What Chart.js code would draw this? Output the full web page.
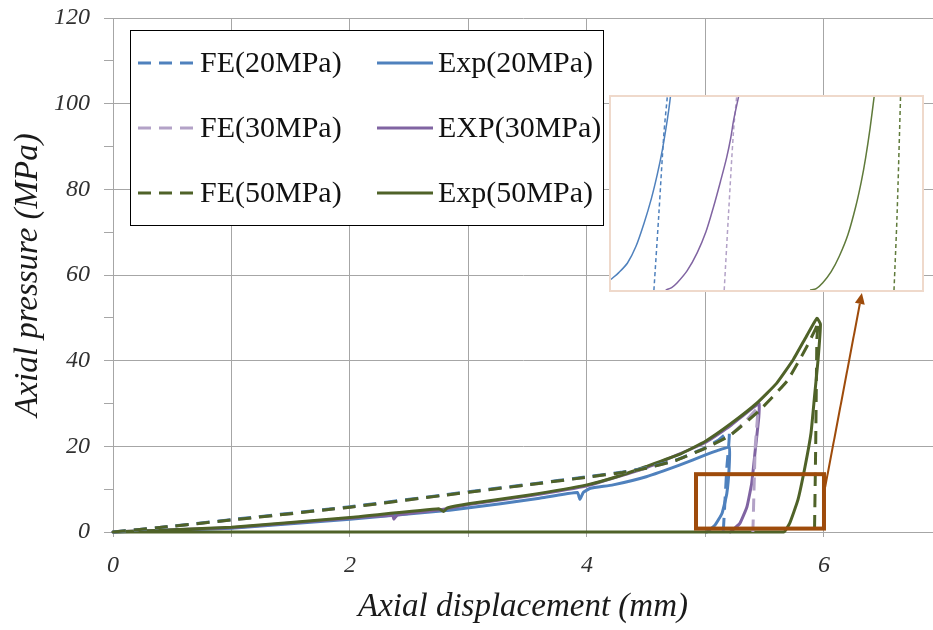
<!DOCTYPE html>
<html><head><meta charset="utf-8">
<script src="https://cdn.jsdelivr.net/npm/chart.js@4.4.1/dist/chart.umd.min.js"></script>
<style>
html,body{margin:0;padding:0;background:#fff;}
#wrap{position:relative;width:933px;height:630px;overflow:hidden;}
#main{position:absolute;left:0;top:0;}
#insetBox{position:absolute;left:609px;top:95px;width:315px;height:197px;box-sizing:border-box;border:2px solid #efd9cb;background:#fff;}
#inset{display:block;}
</style></head><body>
<div id="wrap"><canvas id="main" width="933" height="630"></canvas>
<div id="insetBox"><canvas id="inset" width="311" height="193"></canvas></div></div>
<script>
// ---- axis ranges / ticks ----
const xAxisRange = [0, 6.92];
const yAxisRange = [0, 120];
const xTickLabels = [0, 2, 4, 6];
const yTickLabels = [0, 20, 40, 60, 80, 100, 120];

// ---- series names ----
const seriesNames = ['FE(20MPa)', 'FE(30MPa)', 'FE(50MPa)', 'Exp(20MPa)', 'EXP(30MPa)', 'Exp(50MPa)'];

// ---- FE (dashed) ----
const fe20X = [0, 0.45, 1.0, 2.0, 3.0, 3.5, 4.0, 4.3, 4.5, 4.75, 5.0, 5.1, 5.20, 5.18, 5.15];
const fe20Y = [0, 1.2, 2.9, 5.9, 9.4, 11.1, 12.9, 14.0, 15.0, 16.8, 19.7, 21.3, 23.3, 15.0, 0];
const fe30X = [0, 0.45, 1.0, 2.0, 3.0, 3.5, 4.0, 4.3, 4.5, 4.75, 5.0, 5.21, 5.35, 5.44, 5.42, 5.40];
const fe30Y = [0, 1.2, 2.8, 5.8, 9.3, 11.0, 12.8, 13.9, 14.9, 16.7, 19.6, 22.6, 26.2, 28.8, 20.0, 0];
const fe50X = [0, 0.45, 1.0, 2.0, 3.0, 3.5, 4.0, 4.3, 4.5, 4.75, 5.0, 5.21, 5.46, 5.69, 5.85, 5.93, 5.95, 5.94, 5.93, 5.92];
const fe50Y = [0, 1.2, 2.8, 5.8, 9.3, 11.0, 12.8, 13.9, 14.9, 16.7, 19.6, 22.6, 28.5, 35.3, 43.0, 47.5, 49.0, 45.0, 20.0, 0];

// ---- Experiments (solid) ----
const exp20X = [0, 0.3, 1.0, 2.0, 2.84, 3.27, 3.6, 3.92, 3.94, 3.97, 4.03, 4.22, 4.5, 4.78, 5.0, 5.1, 5.20, 5.20, 5.18, 5.14, 5.08, 5.01];
const exp20Y = [0, 0.25, 0.9, 3.0, 5.1, 6.6, 7.9, 9.2, 7.6, 9.3, 10.2, 11.0, 12.9, 15.6, 18.0, 19.0, 19.8, 15.25, 9.0, 4.4, 1.6, 0];
const exp30X = [0, 0.3, 1.0, 2.0, 2.36, 2.37, 2.40, 2.79, 3.0, 3.5, 4.0, 4.5, 5.0, 5.21, 5.45, 5.45, 5.42, 5.39, 5.35, 5.29, 5.21];
const exp30Y = [0, 0.3, 1.0, 3.2, 3.9, 3.0, 4.0, 5.3, 6.4, 8.4, 10.8, 15.0, 20.9, 24.8, 30.0, 26.9, 19.1, 11.4, 5.9, 2.0, 0];
const exp50X = [0, 0.3, 1.0, 2.0, 2.75, 2.79, 2.82, 3.0, 3.5, 4.0, 4.25, 4.5, 4.78, 5.0, 5.21, 5.43, 5.60, 5.74, 5.85, 5.94, 5.97, 5.95, 5.92, 5.89, 5.84, 5.78, 5.71, 5.66, 0];
const exp50Y = [0, 0.3, 1.1, 3.4, 5.4, 4.8, 5.6, 6.6, 8.6, 11.0, 12.9, 15.3, 18.1, 21.2, 25.2, 30.0, 34.7, 40.2, 45.6, 49.9, 48.5, 40.2, 31.6, 23.0, 15.25, 7.5, 2.0, 0, 0];

// ---- zoom box and arrow (data units) ----
const zoomBoxX = [4.92, 6.0];
const zoomBoxY = [0.8, 13.5];
const arrowX = [6.01, 6.32];
const arrowY = [10.5, 55.8];

// ---- inset (zoomed view) ----
const insetRangeX = [5.0, 6.0];
const insetRangeY = [0, 4];
const inExp20X = [5.000, 5.025, 5.053, 5.080, 5.106, 5.130, 5.149, 5.165, 5.176, 5.185, 5.191];
const inExp20Y = [0.22, 0.36, 0.56, 0.90, 1.38, 1.90, 2.40, 2.90, 3.32, 3.70, 4.0];
const inFe20X = [5.138, 5.154, 5.170, 5.181];
const inFe20Y = [0, 1.59, 3.23, 4.0];
const inExp30X = [5.176, 5.195, 5.213, 5.245, 5.277, 5.305, 5.330, 5.352, 5.372, 5.385, 5.394, 5.410];
const inExp30Y = [0, 0.05, 0.15, 0.40, 0.77, 1.20, 1.73, 2.25, 2.75, 3.15, 3.51, 4.0];
const inFe30X = [5.364, 5.378, 5.394, 5.404];
const inFe30Y = [0, 1.59, 3.30, 4.0];
const inExp50X = [5.640, 5.660, 5.681, 5.708, 5.734, 5.762, 5.787, 5.805, 5.819, 5.833, 5.846];
const inExp50Y = [0, 0.03, 0.15, 0.38, 0.70, 1.15, 1.73, 2.25, 2.75, 3.35, 4.0];
const inFe50X = [5.910, 5.920, 5.931];
const inFe50Y = [0, 1.59, 4.0];

// ---- styling ----
const cBlue = '#4f81bd', cLPurple = '#b3a2c7', cPurple = '#8064a2', cGreen = '#4f6228';
const dash = [13, 8];
const pts = (xs, ys) => xs.map((x, i) => ({x: x, y: ys[i]}));

function ds(label, xs, ys, color, dashed, order, width) {
  return {label, data: pts(xs, ys), borderColor: color, backgroundColor: color,
    borderWidth: width, borderDash: dashed ? dash : [], showLine: true, pointRadius: 0,
    fill: false, tension: 0.12, order, clip: 5, borderJoinStyle: 'round',
    borderCapStyle: dashed ? 'butt' : 'round'};
}

const datasets = [
  ds(seriesNames[0], fe20X, fe20Y, cBlue, true, 1, 3),
  ds(seriesNames[1], fe30X, fe30Y, cLPurple, true, 2, 3),
  ds(seriesNames[2], fe50X, fe50Y, cGreen, true, 0, 3),
  ds(seriesNames[3], exp20X, exp20Y, cBlue, false, 5, 3),
  ds(seriesNames[4], exp30X, exp30Y, cPurple, false, 4, 3),
  ds(seriesNames[5], exp50X, exp50Y, cGreen, false, 3, 3)
];

const annotPlugin = {
  id: 'annot',
  afterDatasetsDraw(chart) {
    const {ctx, scales: {x, y}} = chart;
    ctx.save();
    const brown = '#9e4b0b';
    ctx.strokeStyle = brown; ctx.lineWidth = 4; ctx.setLineDash([]);
    const x0 = x.getPixelForValue(zoomBoxX[0]), x1 = x.getPixelForValue(zoomBoxX[1]);
    const y0 = y.getPixelForValue(zoomBoxY[1]), y1 = y.getPixelForValue(zoomBoxY[0]);
    ctx.strokeRect(x0, y0, x1 - x0, y1 - y0);
    const ax0 = x.getPixelForValue(arrowX[0]), ay0 = y.getPixelForValue(arrowY[0]);
    const ax1 = x.getPixelForValue(arrowX[1]), ay1 = y.getPixelForValue(arrowY[1]);
    const ang = Math.atan2(ay1 - ay0, ax1 - ax0);
    const hl = 11, hw = 5;
    const bx = ax1 - hl * Math.cos(ang), by = ay1 - hl * Math.sin(ang);
    ctx.lineWidth = 2;
    ctx.beginPath(); ctx.moveTo(ax0, ay0); ctx.lineTo(bx, by); ctx.stroke();
    ctx.fillStyle = brown;
    ctx.beginPath();
    ctx.moveTo(ax1, ay1);
    ctx.lineTo(bx + hw * Math.sin(ang), by - hw * Math.cos(ang));
    ctx.lineTo(bx - hw * Math.sin(ang), by + hw * Math.cos(ang));
    ctx.closePath(); ctx.fill();
    ctx.restore();
  }
};

const legendPlugin = {
  id: 'boxLegend',
  afterDatasetsDraw(chart) {
    const ctx = chart.ctx;
    ctx.save();
    ctx.fillStyle = '#fff'; ctx.strokeStyle = '#000'; ctx.lineWidth = 1; ctx.setLineDash([]);
    ctx.fillRect(130.5, 30.5, 473, 195);
    ctx.strokeRect(130.5, 30.5, 473, 195);
    const rows = [63, 128, 193];
    const cols = [{lx: 138, lx2: 193, tx: 200}, {lx: 377, lx2: 433, tx: 438}];
    ctx.font = '30px "Liberation Serif"';
    ctx.textBaseline = 'middle';
    chart.data.datasets.forEach((d, i) => {
      const c = cols[Math.floor(i / 3)], r = rows[i % 3];
      ctx.strokeStyle = d.borderColor; ctx.lineWidth = 3; ctx.lineCap = 'butt';
      ctx.setLineDash(d.borderDash || []);
      ctx.beginPath(); ctx.moveTo(c.lx, r); ctx.lineTo(c.lx2, r); ctx.stroke();
      ctx.setLineDash([]);
      ctx.fillStyle = '#111';
      ctx.fillText(d.label, c.tx, r + 1);
    });
    ctx.restore();
  }
};

const tickFont = {family: 'Liberation Serif', style: 'italic', size: 24};
const titleFont = {family: 'Liberation Serif', style: 'italic', size: 33};
const gridCol = '#a6a6a6';

new Chart(document.getElementById('main'), {
  type: 'scatter',
  data: {datasets},
  options: {
    responsive: false, animation: false, devicePixelRatio: 1,
    layout: {padding: {top: 18, right: 0, left: 0, bottom: 0}},
    plugins: {legend: {display: false}, tooltip: {enabled: false}},
    scales: {
      x: {
        type: 'linear', min: xAxisRange[0], max: xAxisRange[1],
        afterFit(s) { s.height = 98; s.paddingLeft = 0; s.paddingRight = 0; },
        ticks: {stepSize: 1, includeBounds: false, autoSkip: false, maxRotation: 0, padding: 14,
          color: '#303030', font: tickFont,
          callback: v => (xTickLabels.includes(v) ? String(v) : '')},
        grid: {color: gridCol, tickColor: gridCol, tickLength: 5, lineWidth: 1},
        border: {color: gridCol},
        title: {display: true, text: 'Axial displacement (mm)', color: '#1a1a1a', font: titleFont, padding: {top: 0, bottom: 3}}
      },
      y: {
        type: 'linear', min: yAxisRange[0], max: yAxisRange[1],
        afterFit(s) { s.width = 113; s.paddingTop = 0; s.paddingBottom = 0; },
        ticks: {stepSize: 10, padding: 14, color: '#303030', font: tickFont,
          callback: v => (yTickLabels.includes(v) ? String(v) : '')},
        grid: {color: c => (c.tick && yTickLabels.includes(c.tick.value) ? gridCol : 'rgba(0,0,0,0)'),
          tickColor: gridCol, tickLength: 9, lineWidth: 1},
        border: {color: gridCol},
        title: {display: true, text: 'Axial pressure (MPa)', color: '#1a1a1a', font: titleFont, padding: {top: 9, bottom: 0}}
      }
    }
  },
  plugins: [annotPlugin, legendPlugin]
});

function ids(xs, ys, color, dashed) {
  return {data: pts(xs, ys), borderColor: color, borderWidth: 1.5, borderDash: dashed ? [4, 3] : [],
    showLine: true, pointRadius: 0, tension: 0.3, fill: false};
}

new Chart(document.getElementById('inset'), {
  type: 'scatter',
  data: {datasets: [
    ids(inExp20X, inExp20Y, cBlue, false),
    ids(inFe20X, inFe20Y, cBlue, true),
    ids(inExp30X, inExp30Y, cPurple, false),
    ids(inFe30X, inFe30Y, cLPurple, true),
    ids(inExp50X, inExp50Y, '#5f7a3a', false),
    ids(inFe50X, inFe50Y, '#5f7a3a', true)
  ]},
  options: {
    responsive: false, animation: false, devicePixelRatio: 1,
    layout: {padding: 0},
    plugins: {legend: {display: false}, tooltip: {enabled: false}},
    scales: {
      x: {type: 'linear', display: false, min: insetRangeX[0], max: insetRangeX[1]},
      y: {type: 'linear', display: false, min: insetRangeY[0], max: insetRangeY[1]}
    }
  }
});
</script>
</body></html>
